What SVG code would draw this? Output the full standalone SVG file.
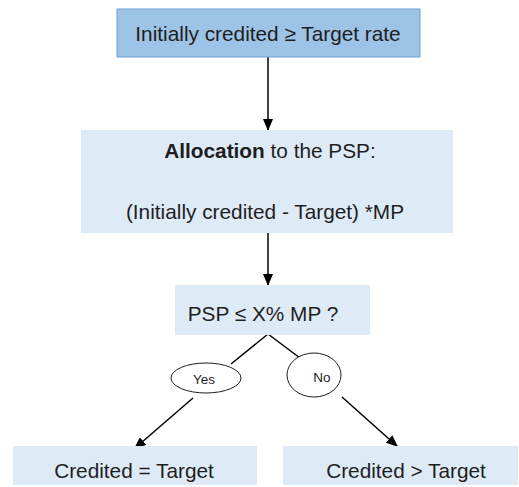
<svg xmlns="http://www.w3.org/2000/svg" width="519" height="487" viewBox="0 0 519 487">
  <style>
    .lbl { font-family: "Liberation Sans", Arial, sans-serif; font-size: 20.8px; fill: #1e1e1e; text-anchor: middle; dominant-baseline: central; }
    .small { font-size: 13.5px; }
    .box { fill: #deebf7; }
    .top { fill: #9dc3e6; stroke: #6f9fd2; stroke-width: 1; }
    .oval { fill: #ffffff; stroke: #1e1e1e; stroke-width: 1; }
    .edge { stroke: #000; stroke-width: 1.5; fill: none; }
  </style>
  <defs>
    <marker id="arrow" viewBox="0 0 12 10" refX="12" refY="5" markerWidth="12" markerHeight="10" markerUnits="userSpaceOnUse" orient="auto">
      <path d="M0,0 L12,5 L0,10 z" fill="#000"/>
    </marker>
  </defs>
  <rect width="519" height="487" fill="#ffffff"/>

  <g id="connectors">
    <line class="edge" x1="268" y1="57" x2="268" y2="131" marker-end="url(#arrow)"/>
    <line class="edge" x1="268" y1="233" x2="268" y2="286" marker-end="url(#arrow)"/>
    <line class="edge" x1="268" y1="334" x2="231" y2="364"/>
    <line class="edge" x1="268" y1="334" x2="300" y2="358"/>
    <line class="edge" x1="193" y1="398" x2="134" y2="449" marker-end="url(#arrow)"/>
    <line class="edge" x1="342" y1="397" x2="398" y2="447" marker-end="url(#arrow)"/>
  </g>

  <g id="start">
    <rect class="top" x="117" y="9" width="303" height="48"/>
    <text class="lbl" x="268" y="33">Initially credited ≥ Target rate</text>
  </g>

  <g id="allocation">
    <rect class="box" x="81" y="130" width="372" height="103"/>
    <text class="lbl" x="270" y="150"><tspan font-weight="bold">Allocation</tspan> to the PSP:</text>
    <text class="lbl" x="265" y="211">(Initially credited - Target) *MP</text>
  </g>

  <g id="check">
    <rect class="box" x="175" y="285" width="195" height="50"/>
    <text class="lbl" x="263" y="313">PSP ≤ X% MP ?</text>
  </g>

  <g id="yes">
    <ellipse class="oval" cx="206" cy="378" rx="35" ry="15"/>
    <text class="lbl small" x="204" y="379">Yes</text>
  </g>

  <g id="no">
    <ellipse class="oval" cx="314" cy="375" rx="27" ry="22"/>
    <text class="lbl small" x="322" y="377">No</text>
  </g>

  <g id="equal">
    <rect class="box" x="13" y="446" width="244" height="39"/>
    <text class="lbl" x="134" y="470">Credited = Target</text>
  </g>

  <g id="greater">
    <rect class="box" x="283" y="446" width="235" height="39"/>
    <text class="lbl" x="406" y="470">Credited &gt; Target</text>
  </g>
</svg>
